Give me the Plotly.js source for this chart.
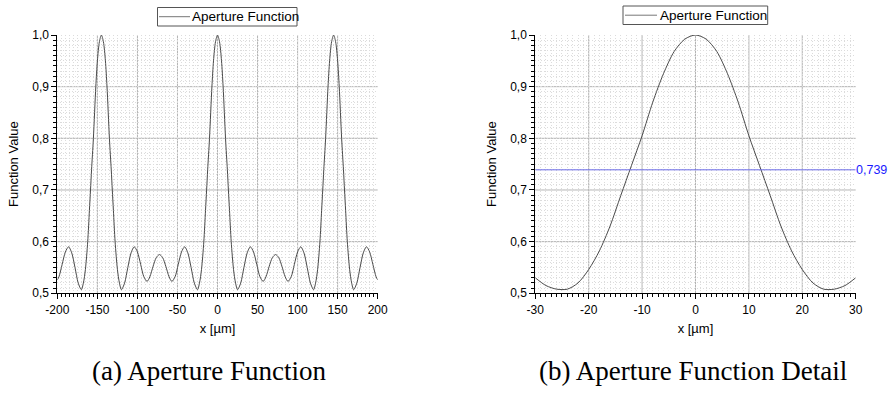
<!DOCTYPE html>
<html><head><meta charset="utf-8">
<script src="https://cdn.plot.ly/plotly-3.0.1.min.js"></script>
<style>html,body{margin:0;padding:0;background:#fff}#chart{width:888px;height:401px}</style>
</head><body><div id="chart"></div>
<script>
// (a) full aperture function
const xFull = [-200,-198,-194,-190,-186,-182,-178,-174,-170,-167.5,-165,-162.1,-160,-158.6,-157.3,-155,-152,-150,-147.5,-145,-142.5,-140,-138,-135,-132.7,-131.4,-130,-127.9,-125,-122.5,-120,-116,-112,-108,-104,-100,-96,-92,-88,-84.5,-80.5,-76.5,-72.5,-68.5,-64.5,-60.5,-57,-53,-49,-45,-41,-37,-33,-29,-25,-22.5,-20,-17.1,-15,-13.6,-12.3,-10,-7,-5,-2.5,
  0,2.5,5,7,10,12.3,13.6,15,17.1,20,22.5,25,29,33,37,41,45,49,53,57,60.5,64.5,68.5,72.5,76.5,80.5,84.5,88,92,96,100,104,108,112,116,120,122.5,125,127.9,130,131.4,132.7,135,138,140,142.5,145,147.5,150,152,155,157.3,158.6,160,162.1,165,167.5,170,174,178,182,186,190,194,198,200];
const yFull = [0.526,0.532,0.556,0.58,0.59,0.578,0.55,0.52,0.507,0.52,0.546,0.6,0.66,0.7,0.739,0.8,0.9,0.95,0.987,1.0,0.987,0.95,0.9,0.8,0.739,0.7,0.66,0.6,0.546,0.52,0.507,0.52,0.55,0.578,0.59,0.58,0.556,0.532,0.523,0.532,0.552,0.569,0.575,0.569,0.552,0.532,0.523,0.532,0.556,0.58,0.59,0.578,0.55,0.52,0.507,0.52,0.546,0.6,0.66,0.7,0.739,0.8,0.9,0.95,0.987,
  1.0,0.987,0.95,0.9,0.8,0.739,0.7,0.66,0.6,0.546,0.52,0.507,0.52,0.55,0.578,0.59,0.58,0.556,0.532,0.523,0.532,0.552,0.569,0.575,0.569,0.552,0.532,0.523,0.532,0.556,0.58,0.59,0.578,0.55,0.52,0.507,0.52,0.546,0.6,0.66,0.7,0.739,0.8,0.9,0.95,0.987,1.0,0.987,0.95,0.9,0.8,0.739,0.7,0.66,0.6,0.546,0.52,0.507,0.52,0.55,0.578,0.59,0.58,0.556,0.532,0.526];

// (b) detail
const xDetail = [-30,-28,-26,-24,-22,-20,-18,-16,-14,-12,-10,-8,-6,-4,-2,0,2,4,6,8,10,12,14,16,18,20,22,24,26,28,30];
const yDetail = [0.530,0.515,0.508,0.508,0.520,0.546,0.582,0.630,0.689,0.747,0.805,0.870,0.925,0.968,0.992,1.000,0.992,0.968,0.925,0.870,0.805,0.747,0.689,0.630,0.582,0.546,0.520,0.508,0.508,0.515,0.530];

const markerLevel = 0.739;
const markerLabel = '0,739';

const xTicksA = [-200,-150,-100,-50,0,50,100,150,200];
const xTickTextA = ['-200','-150','-100','-50','0','50','100','150','200'];
const xTicksB = [-30,-20,-10,0,10,20,30];
const xTickTextB = ['-30','-20','-10','0','10','20','30'];
const yTicks = [0.5,0.6,0.7,0.8,0.9,1.0];
const yTickText = ['0,5','0,6','0,7','0,8','0,9','1,0'];

const seriesName = 'Aperture Function';
const xTitle = 'x [µm]';
const yTitle = 'Function Value';
const captionA = '(a) Aperture Function';
const captionB = '(b) Aperture Function Detail';

const sans = 'Liberation Sans, Arial, sans-serif';
const lineCol = '#4a4a4a';
const majorGrid = '#b4b4b4';
const minorGrid = '#dcdcdc';

const traces = [
  {x: xFull, y: yFull, type: 'scatter', mode: 'lines', name: seriesName,
   line: {color: lineCol, width: 1, shape: 'spline', smoothing: 0.8}, xaxis: 'x', yaxis: 'y', showlegend: false},
  {x: xDetail, y: yDetail, type: 'scatter', mode: 'lines', name: seriesName,
   line: {color: lineCol, width: 1, shape: 'spline', smoothing: 0.8}, xaxis: 'x2', yaxis: 'y2', showlegend: false},
  {x: [xTicksB[0], xTicksB[xTicksB.length-1]], y: [markerLevel, markerLevel], type: 'scatter', mode: 'lines',
   line: {color: '#6b6be6', width: 1}, xaxis: 'x2', yaxis: 'y2', showlegend: false, hoverinfo: 'skip'}
];

function minor(dt, t0) {
  return {dtick: dt, tick0: t0, ticks: 'outside', ticklen: 3, tickcolor: '#000', showgrid: true,
          gridcolor: minorGrid, griddash: '1px,2px', gridwidth: 1};
}
function axis(extra) {
  return Object.assign({
    showline: true, linecolor: '#000', linewidth: 1,
    ticks: 'outside', ticklen: 5, tickwidth: 1, tickcolor: '#000',
    tickfont: {family: sans, size: 12, color: '#000'},
    showgrid: false, zeroline: false, tickmode: 'array', layer: 'above traces'
  }, extra);
}
const titleFont = {family: sans, size: 13, color: '#000'};

// major grid lines at the interior tick values (none on the frame edges, as in the source)
const shapes = [];
function gridX(ticks, xref, yref) {
  ticks.slice(1, -1).forEach(v => shapes.push({type: 'line', xref: xref, yref: yref + ' domain', x0: v, x1: v, y0: 0, y1: 1,
    line: {color: majorGrid, width: 1}, layer: 'below'}));
}
function gridY(ticks, xref, yref) {
  ticks.slice(1, -1).forEach(v => shapes.push({type: 'line', xref: xref + ' domain', yref: yref, x0: 0, x1: 1, y0: v, y1: v,
    line: {color: majorGrid, width: 1}, layer: 'below'}));
}
gridX(xTicksA, 'x', 'y'); gridY(yTicks, 'x', 'y');
gridX(xTicksB, 'x2', 'y2'); gridY(yTicks, 'x2', 'y2');

// legend boxes (box, sample line, label)
function legendBox(x0, x1, y0, y1, sx0, sx1, sy) {
  shapes.push({type: 'rect', xref: 'paper', yref: 'paper', x0: x0, x1: x1, y0: y0, y1: y1,
    fillcolor: '#fff', line: {color: '#555', width: 1}, layer: 'above'});
  shapes.push({type: 'line', xref: 'paper', yref: 'paper', x0: sx0, x1: sx1, y0: sy, y1: sy,
    line: {color: '#777', width: 1}, layer: 'above'});
}
legendBox(157.5/888, 297/888, 1 - 26/401, 1 - 7.5/401, 159/888, 190/888, 1 - 16.7/401);
legendBox(623/888, 767.7/888, 1 - 24.5/401, 1 - 6/401, 625/888, 657/888, 1 - 15.2/401);

const layout = {
  width: 888, height: 401,
  margin: {l: 0, r: 0, t: 0, b: 0},
  paper_bgcolor: '#fff', plot_bgcolor: '#fff',
  separators: ', ',
  font: {family: sans, color: '#000'},
  showlegend: false,
  xaxis: axis({domain: [0.0646, 0.4253], range: [-200, 200], anchor: 'y', tickvals: xTicksA, ticktext: xTickTextA,
    minor: minor(5, 0), title: {text: xTitle, font: titleFont, standoff: 8}}),
  yaxis: axis({domain: [0.2686, 0.9127], range: [0.5, 1.0], anchor: 'x', tickvals: yTicks, ticktext: yTickText,
    minor: minor(0.01, 0.5), title: {text: yTitle, font: titleFont, standoff: 10}}),
  xaxis2: axis({domain: [0.6028, 0.9636], range: [-30, 30], anchor: 'y2', tickvals: xTicksB, ticktext: xTickTextB,
    minor: minor(1, 0), title: {text: xTitle, font: titleFont, standoff: 8}}),
  yaxis2: axis({domain: [0.2686, 0.9127], range: [0.5, 1.0], anchor: 'x2', tickvals: yTicks, ticktext: yTickText,
    minor: minor(0.01, 0.5), title: {text: yTitle, font: titleFont, standoff: 10}}),
  shapes: shapes,
  annotations: [
    {x: xTicksB[xTicksB.length-1], y: markerLevel, xref: 'x2', yref: 'y2', text: markerLabel, showarrow: false,
     xanchor: 'left', yanchor: 'middle', xshift: -2, font: {family: sans, size: 12.5, color: '#1a1aff'}},
    {x: 190/888, y: 1 - 16.7/401, xref: 'paper', yref: 'paper', text: seriesName, showarrow: false,
     xanchor: 'left', yanchor: 'middle', font: {family: sans, size: 13.5, color: '#000'}},
    {x: 658/888, y: 1 - 15.2/401, xref: 'paper', yref: 'paper', text: seriesName, showarrow: false,
     xanchor: 'left', yanchor: 'middle', font: {family: sans, size: 13.5, color: '#000'}},
    {x: 0.2353, y: 0.075, xref: 'paper', yref: 'paper', text: captionA, showarrow: false, xanchor: 'center', yanchor: 'middle',
     font: {family: 'Liberation Serif, serif', size: 27, color: '#000'}},
    {x: 0.7804, y: 0.075, xref: 'paper', yref: 'paper', text: captionB, showarrow: false, xanchor: 'center', yanchor: 'middle',
     font: {family: 'Liberation Serif, serif', size: 27, color: '#000'}}
  ]
};

Plotly.newPlot('chart', traces, layout, {staticPlot: true, displayModeBar: false});
</script></body></html>
